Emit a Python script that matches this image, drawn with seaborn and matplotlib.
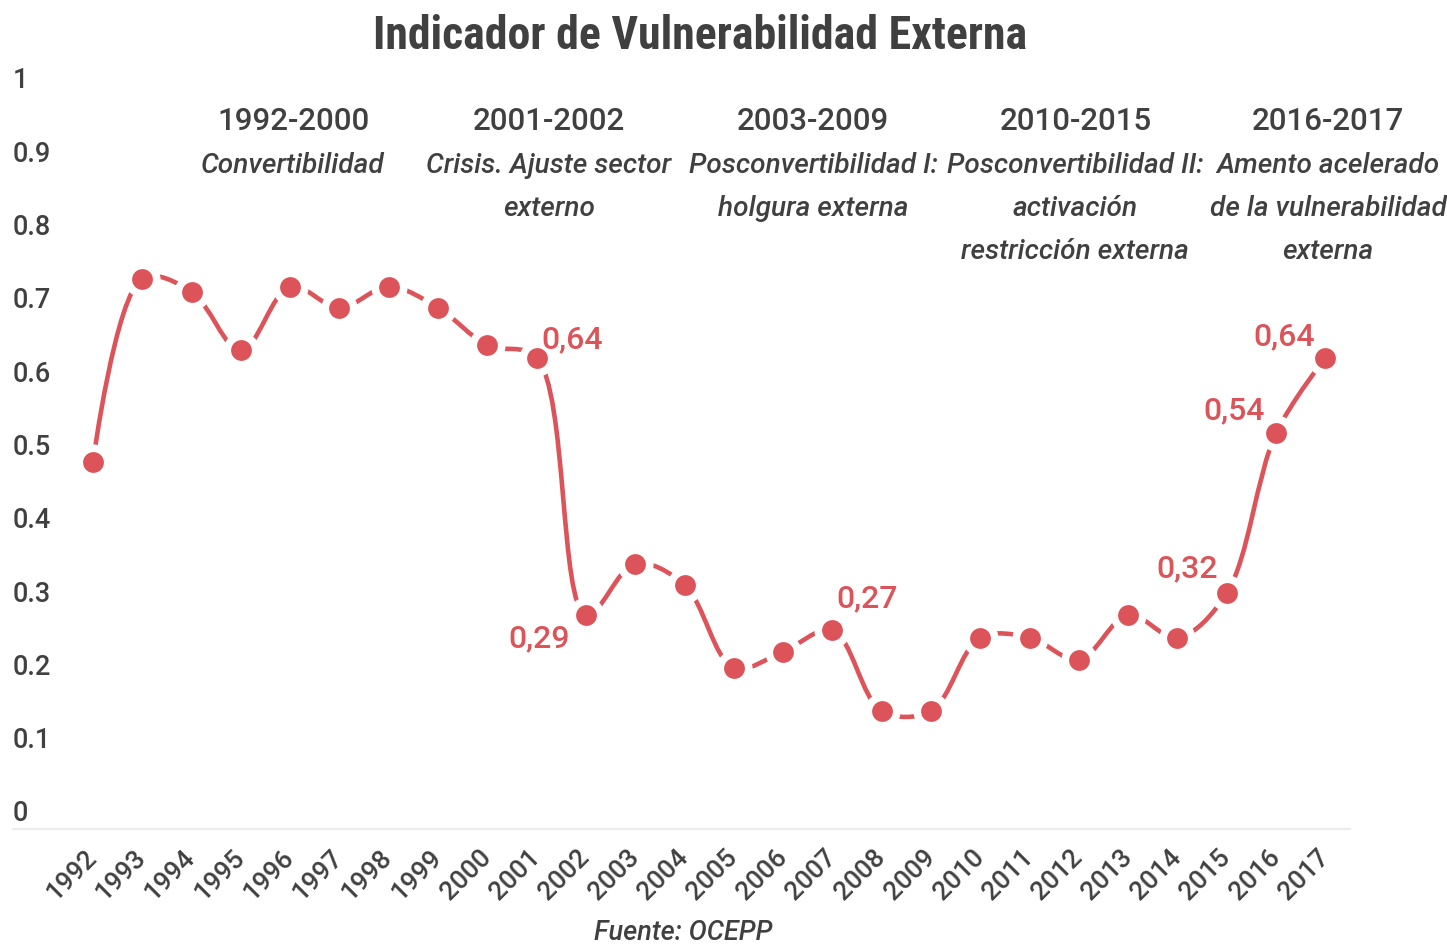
#!/usr/bin/env python3
"""
Indicador de Vulnerabilidad Externa - line chart recreation
"""

import numpy as np
import pandas as pd
import matplotlib
matplotlib.use("Agg")
import matplotlib.pyplot as plt
from matplotlib.path import Path
from matplotlib.patches import PathPatch
import seaborn as sns

# data
years = ['1992', '1993', '1994', '1995', '1996', '1997', '1998', '1999', '2000',
         '2001', '2002', '2003', '2004', '2005', '2006', '2007', '2008', '2009',
         '2010', '2011', '2012', '2013', '2014', '2015', '2016', '2017']
values = [0.475, 0.725, 0.707, 0.627, 0.714, 0.685, 0.714, 0.685, 0.634,
          0.617, 0.266, 0.336, 0.307, 0.194, 0.216, 0.245, 0.135, 0.135,
          0.235, 0.235, 0.205, 0.266, 0.235, 0.296, 0.514, 0.617]

label_years = ['2001', '2002', '2007', '2015', '2016', '2017']
label_texts = ['0,64', '0,29', '0,27', '0,32', '0,54', '0,64']

period_names = ['1992-2000', '2001-2002', '2003-2009', '2010-2015', '2016-2017']
period_desc = ['Convertibilidad',
               'Crisis. Ajuste sector\nexterno',
               'Posconvertibilidad I:\nholgura externa',
               'Posconvertibilidad II:\nactivación\nrestricción externa',
               'Amento acelerado\nde la vulnerabilidad\nexterna']

y_ticks = [0, 0.1, 0.2, 0.3, 0.4, 0.5, 0.6, 0.7, 0.8, 0.9, 1]
y_ticklabels = ['0', '0.1', '0.2', '0.3', '0.4', '0.5', '0.6', '0.7', '0.8', '0.9', '1']

# layout / style
RED = '#DC5459'
GRAY = '#404040'
label_offsets = [(35, 19), (-47, -23), (35, 33), (-40, 25), (-42, 23), (-41, 22)]
period_x = [4.06, 9.25, 14.61, 19.93, 25.06]


def catmull_rom_path(ax, xs, ys, alpha=0.5):
    """Centripetal Catmull-Rom curve (as d3 draws it) built in screen space,
    returned as a Bezier path in data coordinates."""
    trans = ax.transData
    p = trans.transform(np.column_stack([xs, ys]))
    n = len(p)
    verts = [p[0]]
    codes = [Path.MOVETO]
    for i in range(n - 1):
        p0 = p[i - 1] if i > 0 else None
        p1, p2 = p[i], p[i + 1]
        p3 = p[i + 2] if i + 2 < n else None
        l12 = np.hypot(*(p2 - p1)) ** alpha
        c1, c2 = p1.copy(), p2.copy()
        if p0 is not None:
            l01 = np.hypot(*(p1 - p0)) ** alpha
            a = 2 * l01 ** 2 + 3 * l01 * l12 + l12 ** 2
            m = 3 * l01 * (l01 + l12)
            c1 = (p1 * a - p0 * l12 ** 2 + p2 * l01 ** 2) / m
        if p3 is not None:
            l23 = np.hypot(*(p3 - p2)) ** alpha
            b = 2 * l23 ** 2 + 3 * l23 * l12 + l12 ** 2
            m = 3 * l23 * (l23 + l12)
            c2 = (p2 * b + p1 * l23 ** 2 - p3 * l12 ** 2) / m
        verts += [c1, c2, p2]
        codes += [Path.CURVE4] * 3
    verts = trans.inverted().transform(np.array(verts))
    return Path(verts, codes)


sns.set_theme(style='white')
plt.rcParams['font.family'] = ['Roboto', 'DejaVu Sans']

W, H = 1447, 945
fig = plt.figure(figsize=(W / 100, H / 100), dpi=100)
ax = fig.add_axes([13 / W, (H - 830) / H, (1350 - 13) / W, (830 - 78) / H])

df = pd.DataFrame({'year': years, 'value': values})
df['pos'] = np.arange(len(df))

ax.set_xlim(-1.623, 25.5)
ax.set_ylim(-0.026, 1.0)

sns.scatterplot(data=df, x='pos', y='value', ax=ax, color=RED, s=420,
                edgecolor='white', linewidth=5.5, zorder=3, legend=False)
ax.set_xlim(-1.623, 25.5)
ax.set_ylim(-0.026, 1.0)

# smoothed line
ax.add_patch(PathPatch(catmull_rom_path(ax, df['pos'], df['value']),
                       facecolor='none', edgecolor=RED, lw=3.3, zorder=2))

ax.set_xlabel('')
ax.set_ylabel('')

ax.set_xticks(df['pos'])
ax.set_xticklabels(years, rotation=45, ha='right', va='center',
                   rotation_mode='anchor', fontsize=19, color=GRAY,
                   fontweight='medium')
ax.set_yticks(y_ticks)
ax.set_yticklabels(y_ticklabels, fontsize=19.5, color=GRAY, fontweight='medium')
for lab in ax.get_yticklabels():
    lab.set_horizontalalignment('left')
ax.tick_params(axis='y', length=0, pad=0)
ax.tick_params(axis='x', length=0, pad=17)

for side in ['left', 'top', 'right']:
    ax.spines[side].set_visible(False)
ax.spines['bottom'].set_color('#ececec')
ax.spines['bottom'].set_linewidth(1.6)
ax.grid(False)

# value labels
for yr, txt, off in zip(label_years, label_texts, label_offsets):
    row = df[df['year'] == yr].iloc[0]
    ax.annotate(txt, (row['pos'], row['value']), xytext=off,
                textcoords='offset pixels', ha='center', va='center',
                fontsize=23, fontweight='medium', color=RED, zorder=4)

# period headers and descriptions
for px, name, desc in zip(period_x, period_names, period_desc):
    ax.annotate(name, (px, 0.944), xytext=(0, -2), textcoords='offset pixels',
                ha='center', va='center', fontsize=22.5, fontweight='medium',
                color=GRAY, annotation_clip=False)
    for j, line in enumerate(desc.split('\n')):
        ax.annotate(line, (px, 0.885), xytext=(0, -3 - 43 * j),
                    textcoords='offset pixels', ha='center', va='center',
                    fontsize=20.2, style='italic', fontweight='medium',
                    color=GRAY, annotation_clip=False)

fig.text(700 / W, 1 - 36 / H, 'Indicador de Vulnerabilidad Externa',
         ha='center', va='center', fontsize=33, weight='bold', color=GRAY,
         family=['Roboto Condensed', 'Liberation Sans Narrow', 'Roboto'])
fig.text(683 / W, 1 - 933 / H, 'Fuente: OCEPP', ha='center', va='center',
         fontsize=19.5, style='italic', fontweight='medium', color=GRAY)

fig.savefig('out.png', dpi=100)
plt.close(fig)
